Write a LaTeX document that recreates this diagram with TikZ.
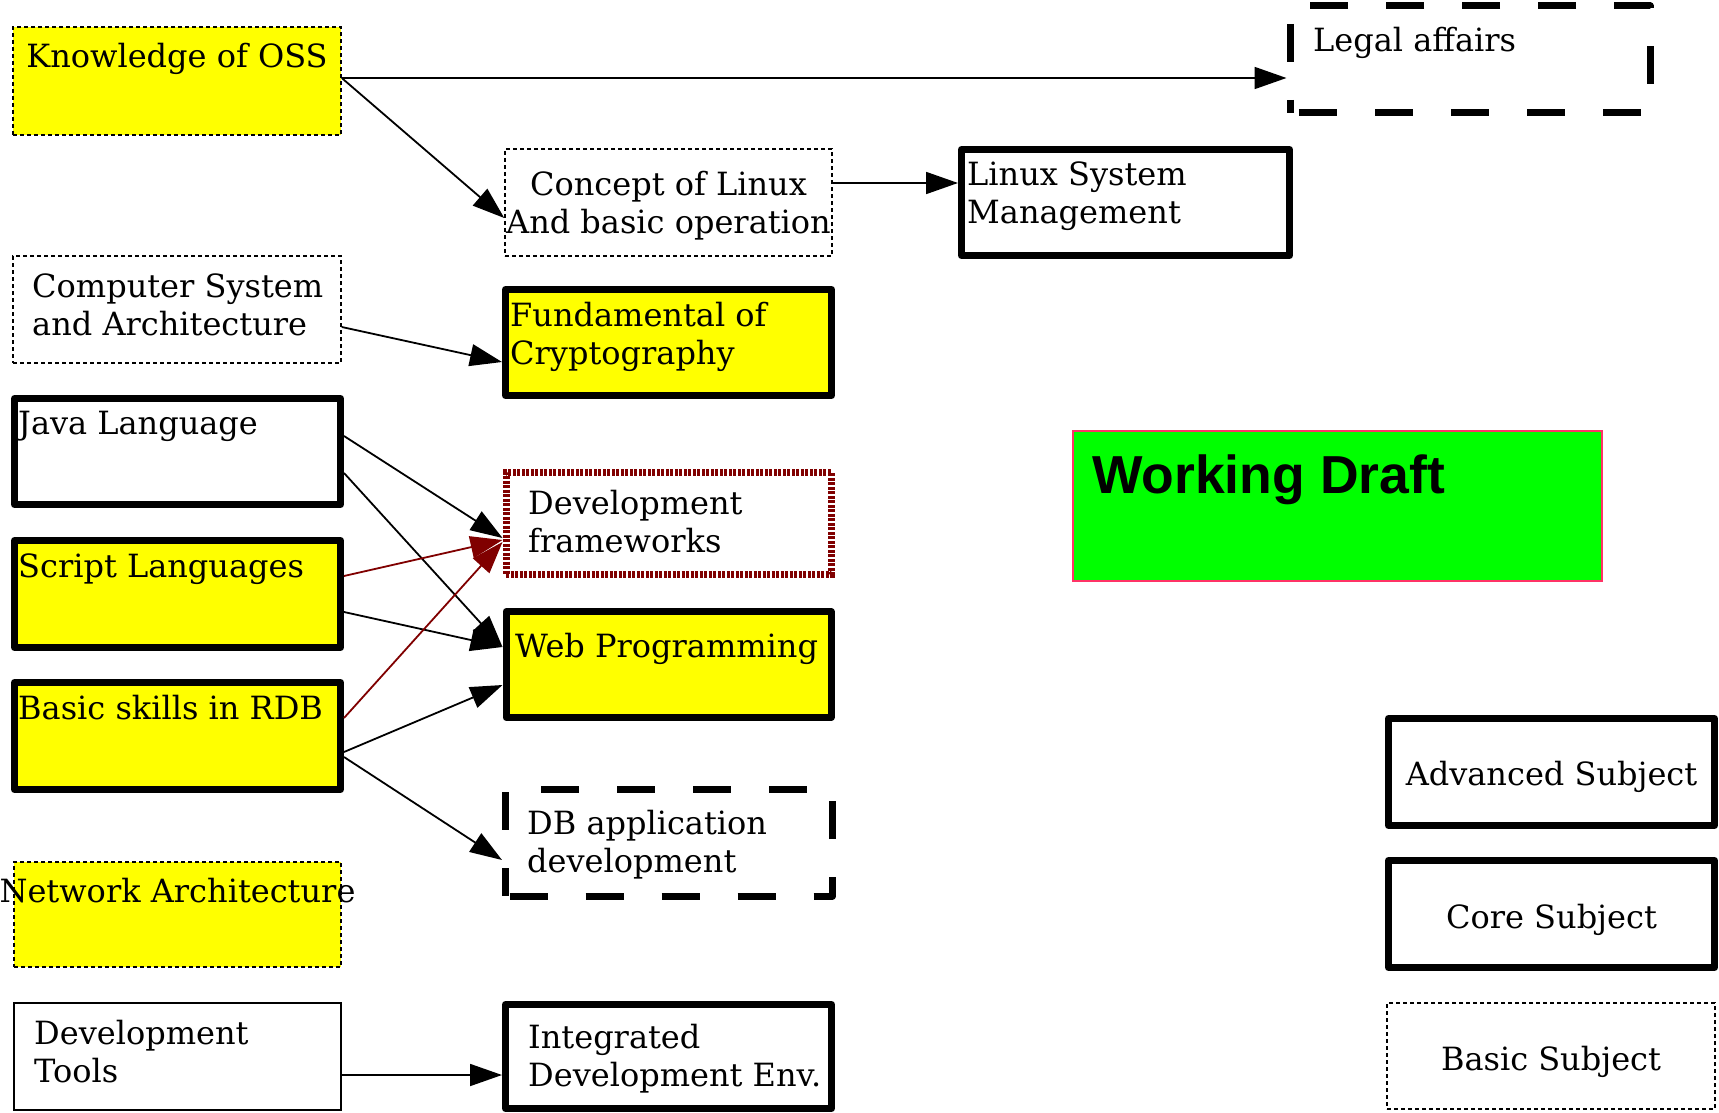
\documentclass[tikz,border=0pt]{standalone}
\usepackage{fontspec}
\setmainfont{DejaVu Serif}
\newfontfamily\draftfont{Liberation Sans}
\usetikzlibrary{arrows.meta}
\definecolor{boxyellow}{RGB}{255,255,0}
\definecolor{draftgreen}{RGB}{0,255,0}
\definecolor{draftedge}{RGB}{255,51,102}
\definecolor{darkred}{RGB}{128,0,0}
\begin{document}
\begin{tikzpicture}[x=1pt,y=-1pt,
  box/.style={draw, rectangle, inner sep=0pt},
  basicbox/.style={box, line width=1.5pt, dash pattern=on 4pt off 3pt},
  corebox/.style={box, line width=7pt, line join=round},
  advbox/.style={box, line width=7pt, line join=round, dash pattern=on 38pt off 38pt},
  plainbox/.style={box, line width=1.5pt},
  fwbox/.style={box, line width=7pt, draw=darkred, dash pattern=on 3pt off 1.5pt},
  hi/.style={fill=boxyellow},
  sz/.style 2 args={minimum width=#1pt, minimum height=#2pt},
  lbl/.style={inner sep=0pt, font=\fontsize{32}{38}\selectfont},
  link/.style={line width=1.8pt, -{Triangle[length=32pt,width=22pt]}},
  redlink/.style={link, draw=darkred},
]
\useasboundingbox[fill=white] (0,0) rectangle (1719,1113);

% left column (two-line labels are anchored on the baseline of their last line)
\node[basicbox, hi, sz={328}{108}] (kos) at (177,81) {};
\node[lbl, anchor=base] (kos-t) at (177,68) {Knowledge of OSS};

\node[basicbox, sz={328}{107}] (comp) at (177,309.5) {};
\node[lbl, anchor=base west, align=left] (comp-t) at (32,335) {Computer System\\and Architecture};

\node[corebox, sz={326}{106}] (java) at (177.5,451.5) {};
\node[lbl, anchor=base west] (java-t) at (18,434) {Java Language};

\node[corebox, hi, sz={326}{107}] (script) at (177.5,594) {};
\node[lbl, anchor=base west] (script-t) at (18,577) {Script Languages};

\node[corebox, hi, sz={326}{107}] (rdb) at (177.5,736) {};
\node[lbl, anchor=base west] (rdb-t) at (18,719) {Basic skills in RDB};

\node[basicbox, hi, sz={327}{105}] (net) at (177.5,914.5) {};
\node[lbl, anchor=base] (net-t) at (177.5,902) {Network Architecture};

\node[plainbox, sz={327}{107}] (devtools) at (177.5,1056.5) {};
\node[lbl, anchor=base west, align=left] (devtools-t) at (34,1082) {Development\\Tools};

% middle column
\node[basicbox, sz={327}{107}] (concept) at (668.5,202.5) {};
\node[lbl, anchor=base, align=center] (concept-t) at (668.5,233) {Concept of Linux\\And basic operation};

\node[corebox, hi, sz={326}{106}] (fund) at (668.5,342.5) {};
\node[lbl, anchor=base west, align=left] (fund-t) at (510,364) {Fundamental of\\Cryptography};

\node[fwbox, sz={325}{102}] (devfw) at (668.5,523) {};
\node[lbl, anchor=base west, align=left] (devfw-t) at (528,552) {Development\\frameworks};

\node[corebox, hi, sz={325}{106}] (web) at (668.5,664.5) {};
\node[lbl, anchor=base west] (web-t) at (515,657) {Web Programming};

\node[advbox, dash phase=72pt, sz={327}{107}] (dbapp) at (669,842.5) {};
\node[lbl, anchor=base west, align=left] (dbapp-t) at (527,872) {DB application\\development};

\node[corebox, sz={326}{104}] (ide) at (668.5,1056.5) {};
\node[lbl, anchor=base west, align=left] (ide-t) at (528,1086) {Integrated\\Development Env.};

% right side
\node[corebox, sz={328}{106}] (linux) at (1125.5,202.5) {};
\node[lbl, anchor=base west, align=left] (linux-t) at (967,223) {Linux System\\Management};

\node[advbox, dash phase=67pt, sz={360}{107}] (legal) at (1470,59.5) {};
\node[lbl, anchor=base west] (legal-t) at (1313,52) {Legal affairs};

\node[box, fill=draftgreen, draw=draftedge, line width=2pt, sz={529}{150}] (draft) at (1337.5,506) {};
\node[inner sep=0pt, anchor=base west, font=\draftfont\bfseries\fontsize{53.5}{60}\selectfont] (draft-t) at (1092,493) {Working Draft};

% legend
\node[corebox, sz={326}{107}] (adv) at (1551.5,772) {};
\node[lbl, anchor=base] (adv-t) at (1551.5,785) {Advanced Subject};

\node[corebox, sz={326}{107}] (core) at (1551.5,914) {};
\node[lbl, anchor=base] (core-t) at (1551.5,928) {Core Subject};

\node[basicbox, sz={328}{106}] (basic) at (1551,1056) {};
\node[lbl, anchor=base] (basic-t) at (1551,1070) {Basic Subject};

% prerequisites
\draw[link] ([yshift=3pt]kos.east) -- ([yshift=3pt]kos.east -| legal.west);
\draw[link] ([yshift=3pt]kos.east) -- ([yshift=-15.5pt]concept.west);
\draw[link] ([yshift=19.5pt]concept.east) -- ([yshift=19.5pt]concept.east -| linux.west);
\draw[link] ([yshift=-17.5pt]comp.east) -- ([yshift=-19.5pt]fund.west);
\draw[link] ([yshift=15.5pt]java.east) -- ([yshift=-15pt]devfw.west);
\draw[link] ([yshift=-21.5pt]java.east) -- ([yshift=17.5pt]web.west);
\draw[redlink] ([yshift=18pt]script.east) -- ([yshift=-17pt]devfw.west);
\draw[link] ([yshift=-18pt]script.east) -- ([yshift=17.5pt]web.west);
\draw[redlink] ([yshift=18pt]rdb.east) -- ([yshift=-19pt]devfw.west);
\draw[link] ([yshift=-16pt]rdb.east) -- ([yshift=-20.5pt]web.west);
\draw[link] ([yshift=-21pt]rdb.east) -- ([yshift=-17.5pt]dbapp.west);
\draw[link] ([yshift=-18.5pt]devtools.east) -- ([yshift=-18.5pt]devtools.east -| ide.west);
\end{tikzpicture}
\end{document}
